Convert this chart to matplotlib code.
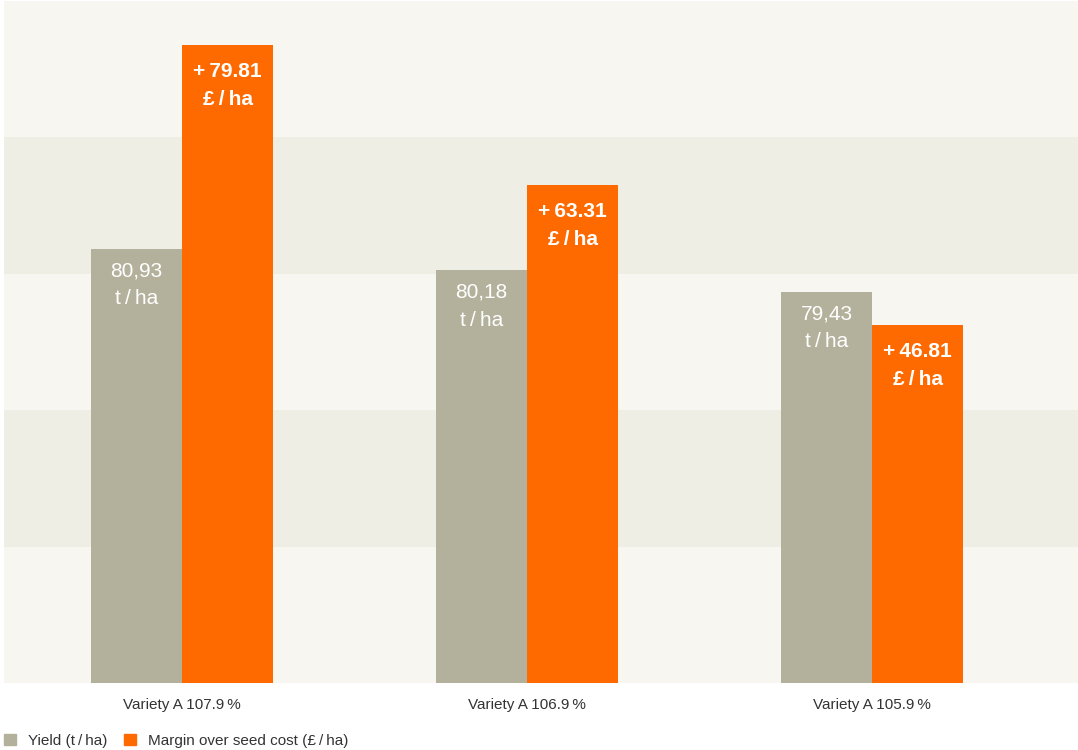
import matplotlib
matplotlib.use("Agg")
import matplotlib.pyplot as plt
from matplotlib.patches import Patch
import numpy as np

# Data
varieties = ["Variety A 107.9\u2009%", "Variety A 106.9\u2009%", "Variety A 105.9\u2009%"]
yield_t_ha = [80.93, 80.18, 79.43]
margin_gbp_ha = [79.81, 63.31, 46.81]

GREY = "#b3b19c"
ORANGE = "#ff6a00"
BAND_LIGHT = "#f7f6f1"
BAND_DARK = "#efeee4"

plt.rcParams["font.family"] = ["Liberation Sans", "DejaVu Sans"]

fig = plt.figure(figsize=(10.78, 7.5), dpi=100)
ax = fig.add_axes([4 / 1078, 67 / 750, 1074 / 1078, 682 / 750])
ax2 = ax.twinx()

x = np.arange(len(varieties))
w = 0.264

# separate scales for the two measures (baselines are not zero in the original)
ax.set_ylim(65.67, 89.65)
ax2.set_ylim(4.62, 85.0)
ax.set_xlim(-0.516, 2.597)

# background bands
edges = np.linspace(*ax.get_ylim(), 6)
for i in range(5):
    ax.axhspan(edges[i], edges[i + 1], color=BAND_LIGHT if i % 2 == 0 else BAND_DARK,
               zorder=0, lw=0)

ax.bar(x - w / 2, [v - ax.get_ylim()[0] for v in yield_t_ha], w,
       bottom=ax.get_ylim()[0], color=GREY, zorder=2)
ax2.bar(x + w / 2, [v - ax2.get_ylim()[0] for v in margin_gbp_ha], w,
        bottom=ax2.get_ylim()[0], color=ORANGE, zorder=2)

# labels inside bars
for xi, v in zip(x, yield_t_ha):
    ax.annotate(f"{v:.2f}".replace(".", ",") + "\nt\u2009/\u2009ha",
                xy=(xi - w / 2, v), xytext=(0, -9), textcoords="offset points",
                ha="center", va="top", color="white", fontsize=15,
                linespacing=1.6)
for xi, v in zip(x, margin_gbp_ha):
    ax2.annotate(f"+\u2009{v:.2f}\n£\u2009/\u2009ha",
                 xy=(xi + w / 2, v), xytext=(0, -12), textcoords="offset points",
                 ha="center", va="top", color="white", fontsize=15,
                 fontweight="bold", linespacing=1.6)

for a in (ax, ax2):
    for s in a.spines.values():
        s.set_visible(False)
    a.set_yticks([])
ax.set_xticks(x)
ax.set_xticklabels(varieties, fontsize=11, color="#333333")
ax.tick_params(axis="x", length=0, pad=11)

handles = [Patch(color=GREY, label="Yield (t\u2009/\u2009ha)"),
           Patch(color=ORANGE, label="Margin over seed cost (£\u2009/\u2009ha)")]
fig.legend(handles=handles, loc="lower left", bbox_to_anchor=(2 / 1078, 0.0), ncol=2,
           frameon=False, fontsize=11, handlelength=0.75, handleheight=0.75,
           handletextpad=0.8, columnspacing=1.1, borderpad=0.15, borderaxespad=0.0,
           labelcolor="#333333")

fig.savefig("out.png", dpi=100)
